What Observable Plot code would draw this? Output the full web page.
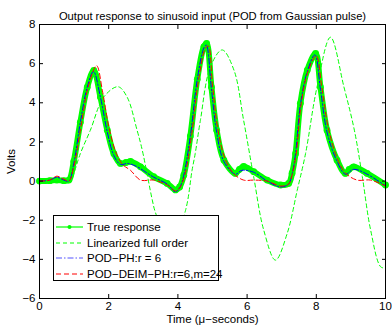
<!DOCTYPE html>
<html>
<head>
<meta charset="utf-8">
<script src="https://cdn.jsdelivr.net/npm/d3@7"></script>
<script src="https://cdn.jsdelivr.net/npm/@observablehq/plot@0.6"></script>
<style>
  body { margin: 0; background: #fff; font-family: "Liberation Sans", Arial, sans-serif; }
  #wrap { position: relative; width: 392px; height: 325px; }
  #legend { position: absolute; left: 53px; top: 215px; width: 164px; height: 64px; border: 1px solid #000; background: #fff; font-size: 11.5px; }
  .row { position: absolute; left: 0; height: 14px; display: flex; align-items: center; }
  .row svg { margin-left: 2px; margin-right: 4px; }
</style>
</head>
<body>
<div id="wrap"></div>
<script>
const titleText = "Output response to sinusoid input (POD from Gaussian pulse)";
const xLabel = "Time (μ−seconds)";
const yLabel = "Volts";
const xTicks = [0, 2, 4, 6, 8, 10];
const yTicks = [-6, -4, -2, 0, 2, 4, 6, 8];
const seriesNames = ["True response", "Linearized full order", "POD\u2212PH:r = 6", "POD\u2212DEIM\u2212PH:r=6,m=24"];

const trueT = [0,0.3,0.5,0.7,0.85,0.99,1.18,1.38,1.57,1.76,1.96,2.15,2.34,2.5,2.63,2.92,3.3,3.69,3.93,4.05,4.17,4.36,4.56,4.75,4.83,4.97,5.12,5.33,5.66,5.78,5.9,6.19,6.58,6.97,7.2,7.3,7.4,7.54,7.74,7.98,8.12,8.31,8.6,8.84,8.95,9.08,9.47,10];
const trueV = [0,0.02,0.05,0.02,0.05,1.0,3.0,4.8,5.65,4.3,2.6,1.4,0.9,0.95,1.0,0.73,0.22,-0.12,-0.45,-0.3,0.3,2.3,5.2,6.86,7.03,4.8,2.6,1.07,0.39,0.6,0.75,0.48,0.05,-0.2,-0.12,0.4,1.4,3.97,5.67,6.52,4.8,2.6,1.07,0.39,0.6,0.73,0.39,-0.2];

const linT = [0,0.9,0.99,1.18,1.47,1.86,2.27,2.53,2.82,2.97,3.26,3.35,3.8,4.22,4.41,4.5,4.65,4.94,5.28,5.62,5.9,6.19,6.48,6.82,7.16,7.45,7.69,8.02,8.41,8.8,9.1,9.33,9.57,9.86,10];
const linV = [0,0.05,0.39,1.4,2.6,4.3,4.82,4.3,2.6,1.58,-0.97,-1.6,-3.4,-1.5,0.56,1.4,3.1,5.84,6.7,5.67,3.1,0.22,-2.5,-4.04,-2.67,-0.46,1.41,4.8,7.35,4.8,2.6,0.22,-2.5,-4.38,-4.45];

const podT = [0,0.3,0.5,0.7,0.85,0.99,1.18,1.38,1.56,1.76,1.96,2.15,2.34,2.55,2.8,3.3,3.69,3.93,4.05,4.17,4.36,4.56,4.75,4.82,4.97,5.12,5.33,5.66,5.85,6.19,6.58,6.97,7.2,7.3,7.4,7.54,7.74,7.96,8.12,8.31,8.6,8.84,9.08,9.47,10];
const podV = [0,0.05,0.2,0.05,0,0.9,3.0,4.8,5.6,4.3,2.5,1.3,0.85,0.9,0.75,0.2,-0.15,-0.55,-0.35,0.3,2.3,5.2,6.8,6.95,4.7,2.5,1.0,0.35,0.55,0.45,0,-0.3,-0.15,0.35,1.4,3.9,5.6,6.45,4.7,2.5,1.0,0.35,0.6,0.35,-0.25];

const deimT = [0,0.3,0.5,0.7,0.85,1.0,1.2,1.42,1.65,1.82,2.0,2.2,2.4,2.63,2.92,3.3,3.69,3.93,4.05,4.2,4.4,4.6,4.8,4.88,5.0,5.15,5.35,5.6,5.9,6.19,6.58,6.97,7.2,7.3,7.42,7.56,7.76,8.0,8.15,8.35,8.62,8.85,9.18,9.57,10];
const deimV = [0,0.05,0.25,0.1,0,0.8,2.8,4.9,5.9,4.6,2.8,1.5,0.85,0.55,0.05,0.05,-0.2,-0.5,-0.35,0.3,2.4,5.2,6.8,6.9,4.9,2.7,1.2,0.4,0.05,0.05,0,-0.25,-0.15,0.3,1.4,3.9,5.6,6.4,4.9,2.7,1.1,0.4,0.05,0.05,-0.25];

const toRows = (ts, vs) => ts.map((t, i) => ({t, v: vs[i]}));
const trueData = toRows(trueT, trueV);
const linData = toRows(linT, linV);
const podData = toRows(podT, podV);
const deimData = toRows(deimT, deimV);

const GREEN = "#00ff00", BLUE = "#0000ff", RED = "#ff0000";

const chart = Plot.plot({
  width: 392, height: 325,
  marginLeft: 39, marginRight: 7, marginTop: 24, marginBottom: 27,
  style: {fontFamily: "'Liberation Sans', Arial, sans-serif", fontSize: "11.5px", color: "#000", background: "#fff"},
  x: {domain: [0, 10]},
  y: {domain: [-6, 8]},
  marks: [
    Plot.line(trueData, {x: "t", y: "v", stroke: GREEN, strokeWidth: 6, curve: "catmull-rom"}),
    Plot.dot(trueData, {x: "t", y: "v", fill: GREEN, r: 3.4}),
    Plot.line(linData, {x: "t", y: "v", stroke: GREEN, strokeWidth: 1, strokeDasharray: "4,3", curve: "catmull-rom"}),
    Plot.line(podData, {x: "t", y: "v", stroke: BLUE, strokeWidth: 1, strokeDasharray: "6,2,1.5,2", curve: "catmull-rom"}),
    Plot.line(deimData, {x: "t", y: "v", stroke: RED, strokeWidth: 1, strokeDasharray: "5,3", curve: "catmull-rom"}),
    Plot.frame({stroke: "#000", strokeWidth: 1}),
    Plot.axisX(xTicks, {anchor: "bottom", tickSize: -4, tickPadding: 7, label: xLabel, labelAnchor: "center", labelArrow: "none", labelOffset: 24, fontSize: 11.5}),
    Plot.axisX(xTicks, {anchor: "top", tickSize: -4, tickFormat: () => "", label: null}),
    Plot.axisY(yTicks, {anchor: "left", tickSize: -4, tickPadding: 8, label: yLabel, labelAnchor: "center", labelArrow: "none", labelOffset: 33, fontSize: 11.5, tickFormat: d => d < 0 ? "\u2212" + Math.abs(d) : String(d)}),
    Plot.axisY(yTicks, {anchor: "right", tickSize: -4, tickFormat: () => "", label: null}),
    Plot.text([titleText], {frameAnchor: "top", dy: -12, fontSize: 11.2, fill: "#000"})
  ]
});

const wrap = document.getElementById("wrap");
wrap.appendChild(chart);

// legend overlay
const legend = document.createElement("div");
legend.id = "legend";
const samples = [
  {stroke: GREEN, width: 1.2, dash: null, dot: true},
  {stroke: GREEN, width: 1, dash: "4,3", dot: false},
  {stroke: "#5555ff", width: 1.2, dash: "6,2,1.5,2", dot: false},
  {stroke: RED, width: 1, dash: "5,3", dot: false}
];
const rowTops = [4, 19.5, 35, 50.5];
seriesNames.forEach((name, i) => {
  const s = samples[i];
  const row = document.createElement("div");
  row.className = "row";
  row.style.top = rowTops[i] + "px";
  row.innerHTML = `<svg width="27" height="8"><line x1="0" y1="4" x2="27" y2="4" stroke="${s.stroke}" stroke-width="${s.width}" ${s.dash ? `stroke-dasharray="${s.dash}"` : ""}/>${s.dot ? `<circle cx="13.5" cy="4" r="2" fill="${s.stroke}"/>` : ""}</svg><span>${name}</span>`;
  legend.appendChild(row);
});
wrap.appendChild(legend);
</script>
</body>
</html>
